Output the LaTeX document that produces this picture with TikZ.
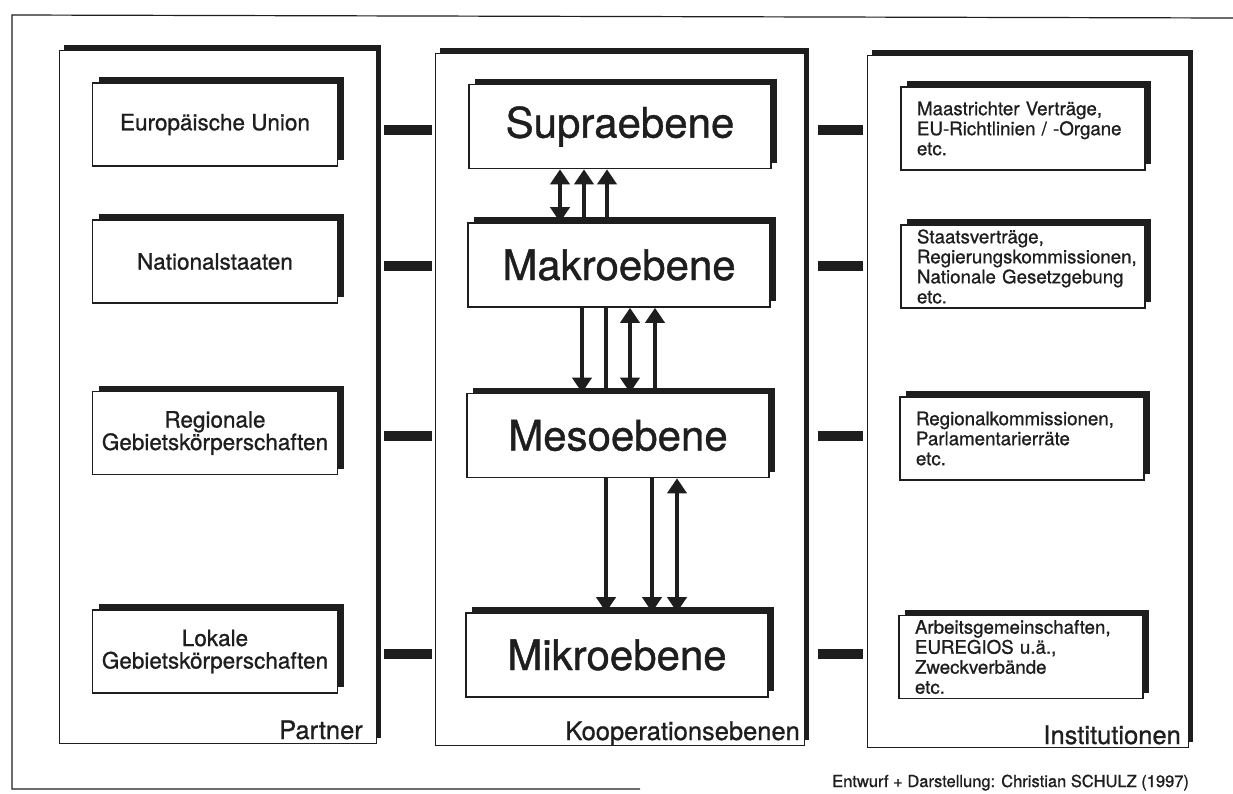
\documentclass[tikz,border=0pt]{standalone}
\usepackage{fontspec}
\setmainfont{TeX Gyre Heros}[FakeBold=0.9]
\usetikzlibrary{arrows.meta,shadows}
\definecolor{ink}{HTML}{1E1E1E}
\hyphenpenalty=10000
\exhyphenpenalty=10000
\begin{document}
\begin{tikzpicture}[x=1pt,y=-1pt,
  panel/.style={draw=ink, line width=1pt, fill=white, inner sep=0pt,
    drop shadow={shadow xshift=5pt, shadow yshift=5pt, fill=ink, opacity=1}},
  sbox/.style={draw=ink, line width=1.6pt, fill=white, inner sep=0pt, text=ink,
    minimum height=83pt,
    drop shadow={shadow xshift=6pt, shadow yshift=6pt, fill=ink, opacity=1}},
  pbox/.style={sbox, minimum width=245pt, align=center,
    font=\fontsize{22.5}{22.5}\selectfont},
  lbox/.style={sbox, minimum width=302pt, minimum height=84pt,
    font=\fontsize{42}{48}\selectfont},
  ibox/.style={sbox, text width=212pt, inner xsep=16pt, align=left,
    font=\fontsize{18.7}{20}\selectfont},
  lab/.style={inner sep=0pt, text=ink, font=\fontsize{25.5}{30}\selectfont},
  bar/.style={draw=ink, line width=10pt},
  ln/.style={draw=ink, line width=4.5pt},
  arr/.style={ln, -{Triangle[width=19pt,length=15pt]}},
  dbl/.style={ln, {Triangle[width=19pt,length=15pt]}-{Triangle[width=19pt,length=15pt]}}
]
\useasboundingbox (0,0) rectangle (1233,793);
\fill[white] (0,0) rectangle (1233,793);

% outer frame
\draw[ink, line width=1.2pt] (1233,18) -- (12,15) -- (12,789) -- (640,789);

% panels
\node[panel, minimum width=317pt, minimum height=693pt] (partner) at (217.5,396.5) {};
\node[panel, minimum width=369pt, minimum height=692pt] (mid) at (619.5,399) {};
\node[panel, minimum width=321pt, minimum height=692pt] (inst) at (1027.5,401) {};

% partner boxes
\node[pbox] (eu)  at (215,124.5) {Europäische Union};
\node[pbox] (nat) at (215,261.5) {Nationalstaaten};
\node[pbox] (reg) at (215,433) {Regionale\\Gebietskörperschaften};
\node[pbox] (lok) at (215,651.5) {Lokale\\Gebietskörperschaften};

% level boxes
\node[lbox] (supra) at (620,126.5) {Supraebene};
\node[lbox] (makro) at (619,265) {Makroebene};
\node[lbox] (meso)  at (618,435.5) {Mesoebene};
\node[lbox] (mikro) at (617,655) {Mikroebene};

% institution boxes
\node[ibox] (maas) at (1023,128.5) {Maastrichter Verträge,\\EU-Richtlinien / -Organe\\etc.};
\node[ibox] (staat) at (1023,266.5) {Staatsverträge,\\Regierungskommissionen,\\Nationale Gesetzgebung\\etc.};
\node[ibox] (regk) at (1022,438.5) {Regionalkommissionen,\\Parlamentarierräte\\etc.};
\node[ibox] (arge) at (1021,657) {Arbeitsgemeinschaften,\\EUREGIOS u.ä.,\\Zweckverbände\\etc.};

% panel labels
\node[lab, anchor=base east] (plab) at (363,739) {Partner};
\node[lab, anchor=base east] (klab) at (800,740) {Kooperationsebenen};
\node[lab, anchor=base east] (ilab) at (1181,744) {Institutionen};

% caption
\node[inner sep=0pt, text=ink, anchor=base west, font=\fontsize{16.5}{20}\selectfont] (cap) at (832,787)
  {Entwurf + Darstellung: Christian SCHULZ (1997)};

% bar rows
\coordinate (b1) at (0,130);
\coordinate (b2) at (0,266);
\coordinate (b3) at (0,436);
\coordinate (b4) at (0,654);
\foreach \b in {b1,b2,b3,b4}{
  \draw[bar, shorten <=7pt, shorten >=3pt] (partner.east |- \b) -- (mid.west |- \b);
  \draw[bar, shorten <=13pt, shorten >=4pt] (mid.east |- \b) -- (inst.west |- \b);
}

% arrow columns
\coordinate (xa) at (560,0);
\coordinate (xb) at (584,0);
\coordinate (xc) at (607,0);
\coordinate (xd) at (582,0);
\coordinate (xe) at (606,0);
\coordinate (xf) at (630,0);
\coordinate (xg) at (655,0);
\coordinate (xh) at (652,0);
\coordinate (xi) at (677,0);

% Supra - Makro
\draw[dbl] (supra.south -| xa) -- (makro.north -| xa);
\draw[arr] (makro.north -| xb) -- (supra.south -| xb);
\draw[arr] (makro.north -| xc) -- (supra.south -| xc);
% Makro - Meso
\draw[arr] (makro.south -| xd) -- (meso.north -| xd);
\draw[ln]  (makro.south -| xe) -- (meso.north -| xe);
\draw[dbl] (makro.south -| xf) -- (meso.north -| xf);
\draw[arr] (meso.north -| xg) -- (makro.south -| xg);
% Meso - Mikro
\draw[arr] (meso.south -| xe) -- (mikro.north -| xe);
\draw[arr] (meso.south -| xh) -- (mikro.north -| xh);
\draw[dbl] (meso.south -| xi) -- (mikro.north -| xi);
\end{tikzpicture}
\end{document}
